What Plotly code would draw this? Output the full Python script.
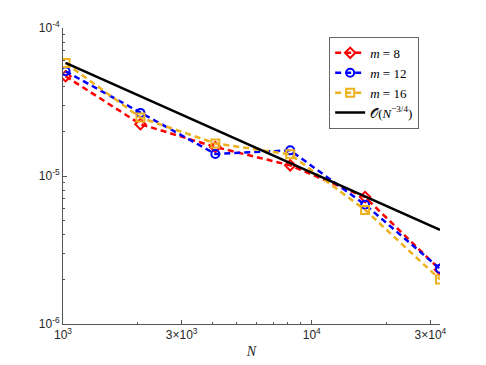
import plotly.graph_objects as go

# problem sizes
N = [1024, 2048, 4096, 8192, 16384, 32768]

# errors
err_m8 = [4.72e-5, 2.24e-5, 1.57e-5, 1.18e-5, 7.2e-6, 2.33e-6]
err_m12 = [5.1e-5, 2.67e-5, 1.41e-5, 1.49e-5, 6.4e-6, 2.36e-6]
err_m16 = [5.8e-5, 2.48e-5, 1.66e-5, 1.40e-5, 5.9e-6, 2.0e-6]
ref_line = [5.81e-5, 3.45e-5, 2.05e-5, 1.22e-5, 7.27e-6, 4.32e-6]

xtick_vals = [1e3, 3e3, 1e4, 3e4]
xtick_text = ["10<sup>3</sup>", "3×10<sup>3</sup>", "10<sup>4</sup>", "3×10<sup>4</sup>"]
ytick_vals = [1e-6, 1e-5, 1e-4]
ytick_text = ["10<sup>-6</sup>", "10<sup>-5</sup>", "10<sup>-4</sup>"]

# minor tick positions
x_minor = [2e3, 4e3, 5e3, 6e3, 7e3, 8e3, 9e3, 2e4]
y_minor = [k * 1e-6 for k in range(2, 10)] + [k * 1e-5 for k in range(2, 10)]

fig = go.Figure()

def add_series(y, name, color, symbol):
    fig.add_trace(go.Scatter(
        x=N, y=y, name=name, mode="lines+markers",
        line=dict(color=color, width=2.5, dash="6px,4px"),
        marker=dict(symbol=symbol, size=8, color=color,
                    line=dict(color=color, width=2)),
    ))

add_series(err_m8, "<i>m</i> = 8", "rgb(255,0,0)", "diamond-open")
add_series(err_m12, "<i>m</i> = 12", "rgb(0,0,255)", "circle-open")
add_series(err_m16, "<i>m</i> = 16", "rgb(237,177,32)", "square-open")

fig.add_trace(go.Scatter(
    x=N, y=ref_line, name="𝒪(<i>N</i><sup>−3/4</sup>)", mode="lines",
    line=dict(color="black", width=2.5),
))

axis_common = dict(
    type="log",
    showgrid=False, zeroline=False, automargin=False,
    showline=True, linecolor="#555555", linewidth=1,
    ticks="inside", ticklen=4, tickcolor="#555555",
    tickfont=dict(family="Liberation Sans, Arial", size=12, color="#262626"),
)

# the page body adds an 8px offset, so the figure is sized to fit the window
fig.update_layout(
    width=478, height=357,
    margin=dict(l=55, r=46, t=20, b=41),
    plot_bgcolor="white", paper_bgcolor="white",
    showlegend=True,
    legend=dict(
        x=0.706, y=0.97, xanchor="left", yanchor="top",
        bgcolor="white", bordercolor="#666666", borderwidth=1,
        font=dict(family="Liberation Serif, DejaVu Serif", size=13, color="black"),
        tracegroupgap=0, itemwidth=30,
    ),
    xaxis=dict(
        axis_common,
        range=[3, 4.5155],
        tickvals=xtick_vals, ticktext=xtick_text,
        minor=dict(tickmode="array", tickvals=x_minor, ticks="inside",
                   ticklen=2, tickcolor="#555555", showgrid=False),
        title=dict(text="<i>N</i>", standoff=4,
                   font=dict(family="Liberation Serif, DejaVu Serif", size=14, color="#262626")),
    ),
    yaxis=dict(
        axis_common,
        range=[-6, -4],
        tickvals=ytick_vals, ticktext=ytick_text,
        minor=dict(tickmode="array", tickvals=y_minor, ticks="inside",
                   ticklen=2, tickcolor="#555555", showgrid=False),
    ),
)

fig.write_html("out.html")
